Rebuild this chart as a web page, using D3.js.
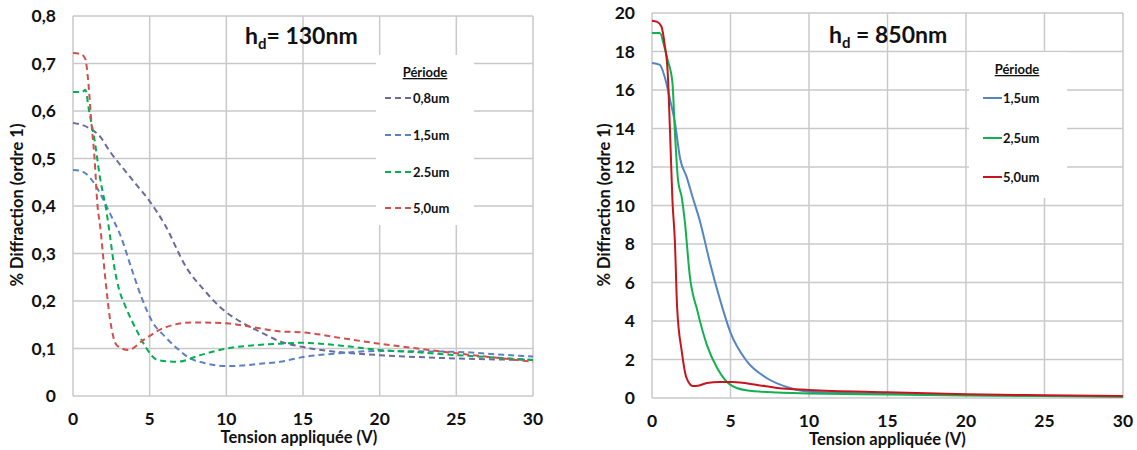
<!DOCTYPE html>
<html><head><meta charset="utf-8">
<script src="https://cdn.jsdelivr.net/npm/d3@7"></script>
<style>
body{margin:0;background:#fff;}
text{font-family:Lato,"Open Sans",sans-serif;font-weight:bold;fill:#111;}
</style></head>
<body><svg id="c" width="1137" height="450"></svg>
<script>
// ---------- Data ----------
const xTicks = [0,5,10,15,20,25,30];
const leftYTicks = [0,0.1,0.2,0.3,0.4,0.5,0.6,0.7,0.8];
const leftYLabels = ["0","0,1","0,2","0,3","0,4","0,5","0,6","0,7","0,8"];
const rightYTicks = [0,2,4,6,8,10,12,14,16,18,20];
const rightYLabels = ["0","2","4","6","8","10","12","14","16","18","20"];

const leftNames = ["0,8um","1,5um","2.5um","5,0um"];
const rightNames = ["1,5um","2,5um","5,0um"];

const L08x = [0,1,1.8,2.4,3,4,5,6,7.4,8.5,9.6,11,12.2,13.5,15,17.5,20,22.5,25,27.5,30];
const L08y = [0.575,0.565,0.545,0.515,0.49,0.45,0.41,0.36,0.27,0.225,0.187,0.155,0.135,0.115,0.103,0.092,0.086,0.082,0.079,0.077,0.076];
const L15x = [0,0.5,1.1,1.76,2.4,3.07,3.9,4.5,5.2,6,6.8,7.6,8.5,10,11,12.2,13.5,15,17.4,20,22.5,25,27.5,30];
const L15y = [0.476,0.474,0.46,0.427,0.385,0.34,0.26,0.205,0.155,0.125,0.10,0.08,0.07,0.063,0.064,0.068,0.072,0.082,0.09,0.095,0.094,0.093,0.088,0.083];
const L25x = [0,0.6,0.8,1.05,1.4,1.76,2.2,2.4,2.7,3.0,3.4,4.2,4.8,5.5,6.8,8.3,10,11.5,13.5,15,17.5,20,22.5,25,27.5,30];
const L25y = [0.64,0.64,0.645,0.60,0.54,0.46,0.385,0.34,0.27,0.225,0.19,0.135,0.10,0.076,0.072,0.086,0.10,0.106,0.11,0.112,0.106,0.097,0.092,0.086,0.081,0.076];
const L50x = [0,0.5,0.8,1.0,1.2,1.4,1.6,1.76,2.1,2.4,2.85,3.6,4.6,5.9,7.8,10,11.7,13.5,15,17.5,20,22.5,25,27.5,30];
const L50y = [0.722,0.72,0.71,0.66,0.575,0.503,0.40,0.36,0.25,0.165,0.107,0.097,0.118,0.143,0.155,0.153,0.145,0.136,0.134,0.122,0.11,0.10,0.09,0.081,0.072];

const R15x = [0,0.5,0.8,1.15,1.46,1.8,2.2,2.6,3.05,3.7,4.3,5,6.05,7.3,8.8,10,12.5,15,20,25,30];
const R15y = [17.4,17.3,16.7,15.5,14.3,12.4,11.5,10.4,9.2,7.0,5.2,3.4,1.9,1.04,0.52,0.33,0.27,0.22,0.15,0.11,0.08];
const R25x = [0,0.5,0.8,1.0,1.3,1.46,1.66,1.9,2.1,2.4,2.9,3.5,4.15,5,6,8,10,15,20,25,30];
const R25y = [18.96,18.96,18.2,17.55,16.4,13.8,11.3,10.4,9.1,6.4,4.5,2.75,1.56,0.68,0.4,0.28,0.24,0.18,0.13,0.1,0.07];
const R50x = [0,0.3,0.6,0.8,1.0,1.15,1.3,1.46,1.6,1.9,2.2,2.6,3.0,3.5,4.3,5.1,6.7,8,10,15,20,25,30];
const R50y = [19.6,19.55,19.3,18.4,16.9,13.8,10.3,8.1,4.7,2.4,1.04,0.62,0.65,0.78,0.83,0.83,0.68,0.52,0.42,0.3,0.2,0.14,0.1];

const leftColors = ["#6a6a9c","#5b80c4","#00b050","#d0504d"];
const rightColors = ["#5585c4","#12b04e","#c4161c"];

// ---------- Drawing ----------
const svg = d3.select("#c");
const zip = (xs, ys) => xs.map((x,i)=>[x, ys[i]]);

function panel(o){
  const x = d3.scaleLinear().domain([0,30]).range([o.x0,o.x1]);
  const y = d3.scaleLinear().domain([0,o.ymax]).range([o.y0,o.y1]);
  const g = svg.append("g");
  // grid
  g.selectAll(".vg").data(xTicks).enter().append("line")
    .attr("x1",d=>x(d)).attr("x2",d=>x(d)).attr("y1",y(0)).attr("y2",y(o.ymax))
    .attr("stroke","#c9c9c9").attr("stroke-width",1.5);
  g.selectAll(".hg").data(o.yTicks).enter().append("line")
    .attr("y1",d=>y(d)).attr("y2",d=>y(d)).attr("x1",x(0)).attr("x2",x(30))
    .attr("stroke","#c9c9c9").attr("stroke-width",1.5);
  // legend white box (covers grid)
  g.append("rect").attr("x",o.leg.x).attr("y",o.leg.y).attr("width",o.leg.w).attr("height",o.leg.h).attr("fill","#fff");
  // tick labels
  g.selectAll(".yl").data(o.yTicks).enter().append("text")
    .attr("x",o.x0-17).attr("y",d=>y(d)+6).attr("text-anchor","end").attr("font-size",17.5)
    .text((d,i)=>o.yLabels[i]);
  g.selectAll(".xl").data(xTicks).enter().append("text")
    .attr("x",d=>x(d)).attr("y",o.y0+29).attr("text-anchor","middle").attr("font-size",17.5)
    .text(d=>d);
  // axis titles
  g.append("text").attr("x",(o.x0+o.x1)/2 - o.xtOff).attr("y",o.y0+47).attr("text-anchor","middle")
    .attr("font-size",16.5).text("Tension appliquée (V)");
  g.append("text").attr("transform",`translate(${o.ytX},205) rotate(-90)`).attr("text-anchor","middle")
    .attr("font-size",16.5).text("% Diffraction (ordre 1)");
  // title
  const t = g.append("text").attr("x",o.title.x).attr("y",o.title.y).attr("font-size",23);
  t.append("tspan").text("h");
  t.append("tspan").attr("dy",5).attr("font-size",15).text("d");
  t.append("tspan").attr("dy",-5).text(o.title.rest);
  // lines
  const line = d3.line().x(d=>x(d[0])).y(d=>y(d[1])).curve(d3.curveMonotoneX);
  o.series.forEach((s,i)=>{
    g.append("path").datum(s).attr("d",line).attr("fill","none")
      .attr("stroke",o.colors[i]).attr("stroke-width",2)
      .attr("stroke-dasharray",o.dashed?"6,4":null);
  });
  // legend
  g.append("text").attr("x",o.leg.cx).attr("y",o.leg.y+22).attr("text-anchor","middle")
    .attr("font-size",13).attr("text-decoration","underline").text("Période");
  o.names.forEach((n,i)=>{
    const yy = o.leg.rowY[i];
    g.append("line").attr("x1",o.leg.lx0).attr("x2",o.leg.lx1).attr("y1",yy).attr("y2",yy)
      .attr("stroke",o.colors[i]).attr("stroke-width",2).attr("stroke-dasharray",o.dashed?"6,4":null);
    g.append("text").attr("x",o.leg.lx1+1).attr("y",yy+4.5).attr("font-size",13).text(n);
  });
}

panel({x0:73,x1:533,y0:396,y1:16,ymax:0.8,yTicks:leftYTicks,yLabels:leftYLabels,
  series:[zip(L08x,L08y),zip(L15x,L15y),zip(L25x,L25y),zip(L50x,L50y)],
  colors:leftColors,names:leftNames,dashed:true,xtOff:4,ytX:23,
  title:{x:245,y:44,rest:"= 130nm"},
  leg:{x:376,y:55,w:98,h:170,cx:425,lx0:385,lx1:412,rowY:[98,135,172,208]}});

panel({x0:652,x1:1123,y0:398,y1:13,ymax:20,yTicks:rightYTicks,yLabels:rightYLabels,
  series:[zip(R15x,R15y),zip(R25x,R25y),zip(R50x,R50y)],
  colors:rightColors,names:rightNames,dashed:false,xtOff:0,ytX:610,
  title:{x:829,y:43,rest:" = 850nm"},
  leg:{x:969,y:52,w:98,h:146,cx:1017,lx0:983,lx1:1002,rowY:[98,138,177]}});
</script></body></html>
